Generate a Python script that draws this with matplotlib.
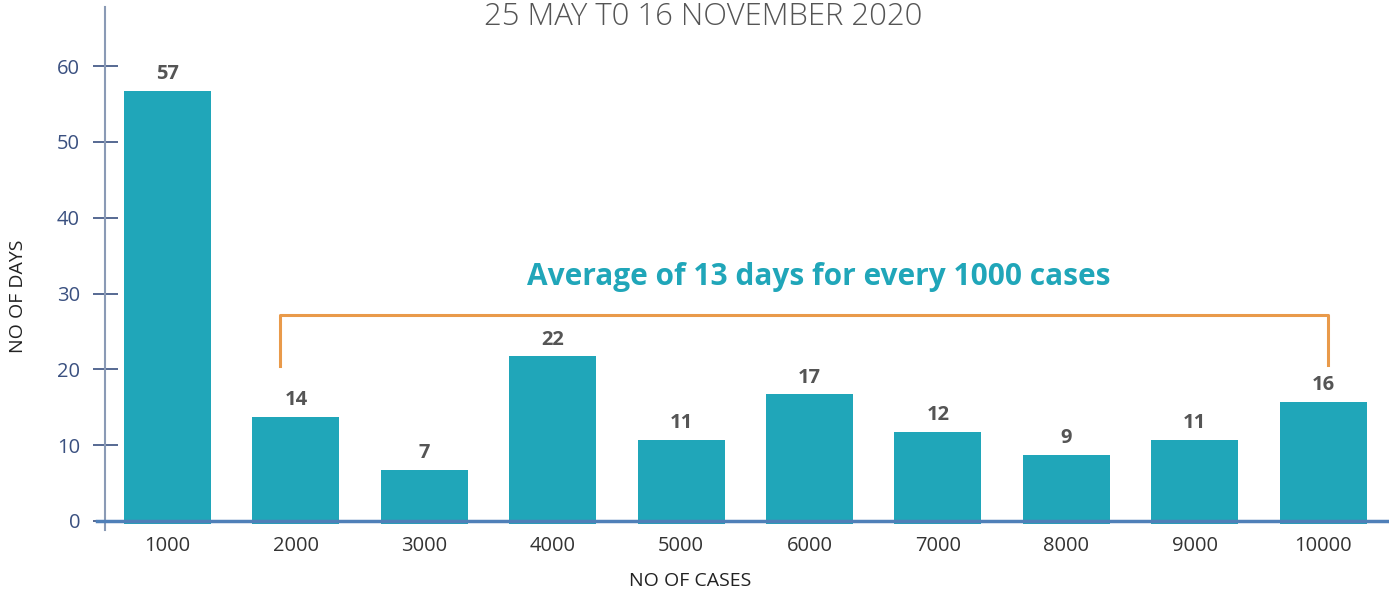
import numpy as np
import matplotlib.pyplot as plt

plt.rcParams['font.family'] = ['Open Sans', 'DejaVu Sans']

cases = ['1000', '2000', '3000', '4000', '5000', '6000', '7000', '8000', '9000', '10000']
days = [57, 14, 7, 22, 11, 17, 12, 9, 11, 16]

teal = '#20a6b9'
x = np.arange(len(cases))

fig = plt.figure(figsize=(13.89, 5.93), dpi=100)
ax = fig.add_axes([105 / 1389, 63 / 593, 1284 / 1389, 523 / 593])

# bars sit slightly below the baseline, like the original
ax.bar(x, np.array(days) + 0.1, 0.678, bottom=-0.4, color=teal, zorder=2)

for xi, d in zip(x, days):
    ax.text(xi, d + 0.6, str(d), ha='center', va='bottom', fontsize=14.5,
            fontweight='bold', color='#555555')

ax.set_xlim(-0.487, 9.513)
ax.set_ylim(-1.2, 67.8)

for s in ['top', 'right', 'bottom']:
    ax.spines[s].set_visible(False)
ax.spines['left'].set_color('#8a9ab5')
ax.spines['left'].set_linewidth(1.5)

# baseline
ax.axhline(0, xmin=-0.006, xmax=1, color='#4f7fb8', lw=2.5, clip_on=False, zorder=3)

ax.set_yticks(range(0, 61, 10))
ax.tick_params(axis='y', direction='inout', length=18, width=1.2, color='#3a5080',
               labelcolor='#3a5080', labelsize=14.5, pad=9)
ax.set_xticks(x)
ax.set_xticklabels(cases)
ax.tick_params(axis='x', length=0, labelsize=14.5, labelcolor='#333333', pad=4)

# axis titles are centred on the figure, not the axes
fig.text(18 / 1389, 0.5, 'NO OF DAYS', rotation=90, ha='center', va='center',
         fontsize=14, color='#222222')
fig.text(690 / 1389, 1 - 581 / 593, 'NO OF CASES', ha='center', va='center',
         fontsize=14, color='#222222')

fig.text(0.506, 0.972, '25 MAY T0 16 NOVEMBER 2020', ha='center', va='center',
         fontsize=22.3, color='#555555', fontweight='light')

# bracket annotation
bx0, bx1 = 0.877, 9.04
ax.plot([bx0, bx0, bx1, bx1], [20.4, 27.2, 27.2, 20.6], color='#e99a4a', lw=2.2,
        zorder=1)
ax.text(5.07, 32.2, 'Average of 13 days for every 1000 cases', ha='center',
        va='center', fontsize=21.5, fontweight='bold', color=teal)

fig.savefig('out.png', dpi=100)
